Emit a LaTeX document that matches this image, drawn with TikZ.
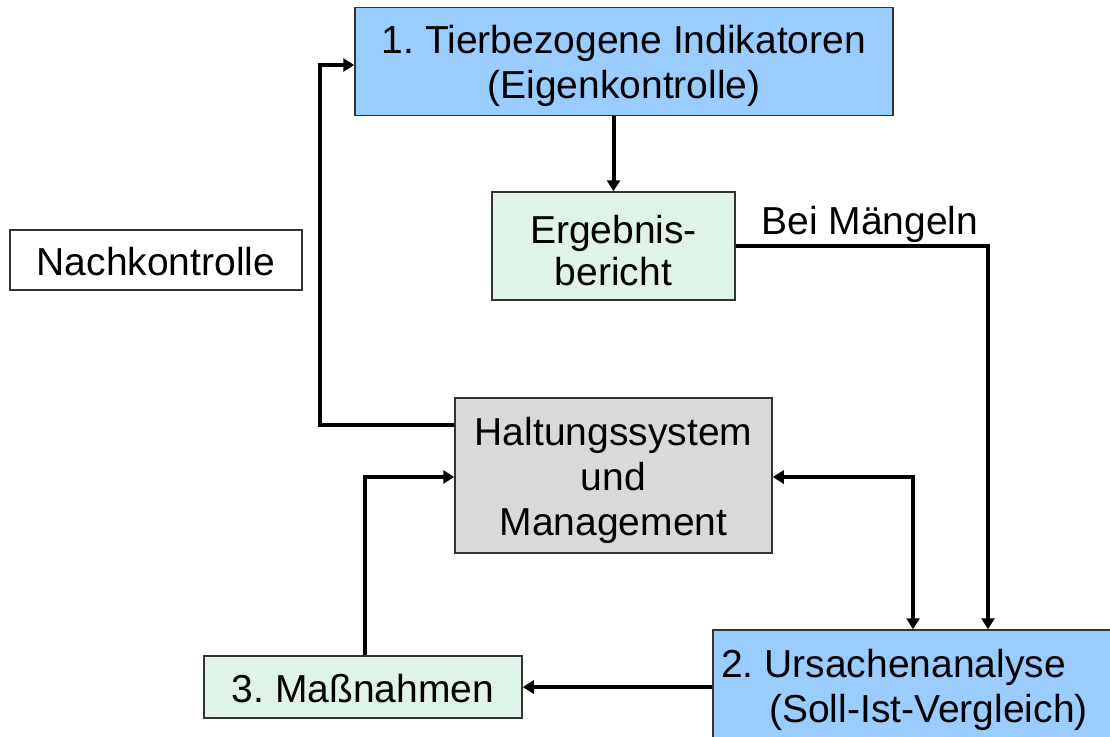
\documentclass[tikz,border=0pt]{standalone}
\usepackage{fontspec}
\setmainfont{Liberation Sans}
\usetikzlibrary{arrows.meta}
\frenchspacing
\definecolor{bluefill}{HTML}{99CCFF}
\definecolor{greenfill}{HTML}{E0F3E8}
\definecolor{grayfill}{HTML}{D9D9D9}
\definecolor{edge}{HTML}{333333}
\newcommand{\topstrut}{\rule{0pt}{38pt}}
\tikzset{
  box/.style={draw=edge, line width=1.5pt, rectangle, inner sep=0pt, align=center,
              font=\fontsize{39}{45}\selectfont},
  conn/.style={line width=4pt, black},
  arr/.style={conn, -{Triangle[length=11pt,width=13pt]}},
  darr/.style={conn, {Triangle[length=11pt,width=13pt]}-{Triangle[length=11pt,width=13pt]}},
  lbl/.style={font=\fontsize{39}{45}\selectfont, inner sep=0pt}
}
\begin{document}
\begin{tikzpicture}[x=1pt,y=-1pt]
\useasboundingbox (0,0) rectangle (1110,736);
\node[box, fill=bluefill, minimum width=538pt, minimum height=108pt] (ind) at (624,61.5)
  {\topstrut 1. Tierbezogene Indikatoren\\(Eigenkontrolle)};
\node[box, fill=greenfill, minimum width=243pt, minimum height=108pt] (erg) at (613.5,246)
  {\topstrut Ergebnis-\\[-3pt]bericht};
\node[box, fill=white, minimum width=292pt, minimum height=60pt] (nach) at (156,260)
  {\rule{0pt}{32pt}Nachkontrolle};
\node[box, fill=grayfill, minimum width=317pt, minimum height=155pt] (halt) at (613.5,475.5)
  {\topstrut Haltungssystem\\und\\Management};
\node[box, fill=greenfill, minimum width=318pt, minimum height=62pt] (mass) at (363,687)
  {\rule{0pt}{32pt}3. Maßnahmen};
\node[box, fill=bluefill, minimum width=417pt, minimum height=130pt] (urs) at (921.5,695) {};
\node[lbl, align=left, anchor=north west] (urstext) at (721,649)
  {2. Ursachenanalyse\\\hspace*{48pt}(Soll-Ist-Vergleich)};
\node[lbl] (bei) at (870,224) {Bei Mängeln};

\coordinate (k1) at (320,425);
\coordinate (k2) at (320,65);
\coordinate (k3) at (365,477);
\coordinate (k4) at (913,477);
\coordinate (k5) at (988,246);

\draw[arr] (erg.north |- ind.south) -- (erg.north);
\draw[arr] (k5 -| erg.east) -- (k5) -- (k5 |- urs.north);
\draw[arr] (k1 -| halt.west) -- (k1) -- (k2) -- (k2 -| ind.west);
\draw[arr] (k3 |- mass.north) -- (k3) -- (k3 -| halt.west);
\draw[darr] (k4 -| halt.east) -- (k4) -- (k4 |- urs.north);
\draw[arr] (mass.east -| urs.west) -- (mass.east);
\end{tikzpicture}
\end{document}
